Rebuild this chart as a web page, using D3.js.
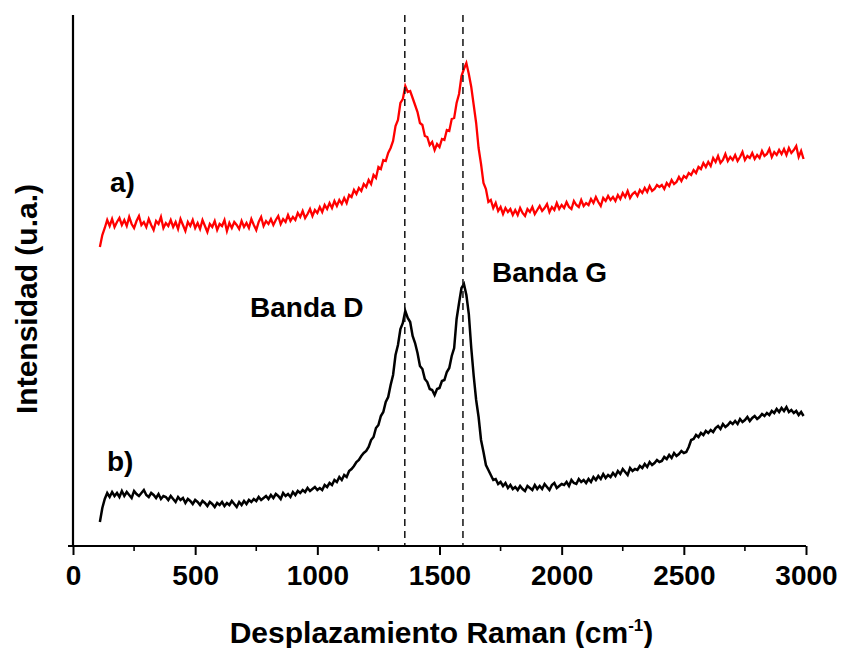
<!DOCTYPE html>
<html>
<head>
<meta charset="utf-8">
<script src="https://cdn.jsdelivr.net/npm/d3@7"></script>
<style>
  html, body { margin: 0; padding: 0; background: #fff; }
  svg text { font-family: "Liberation Sans", Arial, sans-serif; font-weight: bold; fill: #000; }
</style>
</head>
<body>
<svg id="chart" width="842" height="648"></svg>
<script>
// Raman shift sampling (cm-1): 110 .. 2990 every 10
const shiftStart = 110, shiftStep = 10;

// Spectrum a) intensities (arbitrary units)
const spectrumA = [
  299, 311, 318, 326, 320, 327, 319, 324, 328, 321,
  326, 320, 329, 322, 318, 325, 330, 321, 324, 319,
  327, 321, 316, 325, 322, 329, 318, 323, 320, 326,
  319, 324, 317, 327, 321, 315, 324, 320, 326, 318,
  323, 317, 326, 320, 314, 322, 319, 325, 316, 322,
  320, 326, 315, 323, 318, 324, 321, 317, 325, 319,
  323, 318, 327, 321, 316, 324, 329, 320, 325, 322,
  327, 321, 326, 330, 322, 327, 324, 331, 325, 329,
  326, 333, 329, 335, 328, 332, 337, 330, 336, 333,
  339, 334, 341, 337, 343, 338, 345, 340, 346, 342,
  348, 343, 351, 349, 356, 352, 358, 355, 362, 359,
  366, 362, 371, 368, 379, 377, 386, 385, 393, 398,
  405, 420, 426, 443, 447, 460, 454, 455, 448, 441,
  434, 423, 421, 410, 409, 401, 404, 396, 402, 399,
  407, 406, 416, 415, 427, 428, 443, 452, 470, 477,
  483, 472, 459, 441, 423, 398, 382, 363, 357, 344,
  346, 338, 343, 335, 339, 332, 338, 334, 337, 331,
  336, 331, 338, 333, 330, 337, 334, 339, 332, 336,
  340, 335, 338, 342, 334, 339, 336, 343, 337, 341,
  338, 344, 339, 337, 345, 341, 339, 346, 340, 343,
  341, 347, 343, 349, 344, 340, 348, 345, 350, 346,
  349, 345, 351, 347, 353, 349, 355, 348, 352, 354,
  350, 356, 353, 358, 354, 360, 355, 357, 361, 359,
  361, 357, 363, 360, 366, 362, 364, 369, 365, 370,
  368, 373, 371, 376, 373, 379, 377, 383, 379, 384,
  380, 388, 384, 390, 383, 386, 392, 385, 389, 386,
  391, 385, 389, 394, 386, 390, 388, 393, 387, 391,
  388, 395, 390, 392, 397, 389, 394, 391, 396, 392,
  397, 391, 398, 393, 396, 400, 389, 395, 387
];

// Spectrum b) intensities (arbitrary units)
const spectrumB = [
  24, 38, 47, 53, 49, 54, 50, 53, 49, 55,
  50, 54, 51, 48, 55, 52, 50, 53, 56, 51,
  49, 53, 51, 48, 52, 47, 50, 49, 46, 50,
  47, 44, 49, 46, 48, 43, 47, 45, 42, 46,
  44, 41, 45, 43, 40, 44, 42, 39, 43, 41,
  44, 40, 43, 41, 45, 42, 39, 44, 41, 45,
  42, 46, 44, 47, 45, 49, 46, 48, 50, 47,
  51, 48, 52, 50, 47, 53, 50, 52, 49, 54,
  51, 55, 53, 56, 54, 58, 55, 57, 59, 56,
  58, 56, 61, 59, 63, 61, 66, 64, 69, 66,
  71, 69, 75, 77, 80, 84, 86, 90, 93, 95,
  99, 106, 109, 118, 121, 130, 134, 144, 149, 161,
  171, 191, 201, 217, 223, 235, 228, 224, 210, 203,
  193, 180, 177, 167, 164, 157, 156, 151, 157, 158,
  165, 166, 174, 178, 190, 198, 227, 243, 258, 262,
  251, 232, 198, 170, 146, 129, 106, 94, 81, 76,
  71, 66, 67, 62, 64, 60, 63, 58, 61, 57,
  59, 56, 60, 57, 55, 60, 58, 56, 61, 57,
  60, 57, 62, 59, 56, 61, 63, 58, 60, 62,
  61, 64, 60, 66, 63, 62, 67, 64, 66, 63,
  67, 64, 69, 66, 70, 67, 72, 68, 71, 69,
  73, 70, 75, 72, 77, 74, 71, 78, 75, 77,
  76, 80, 78, 82, 79, 84, 81, 83, 86, 84,
  85, 89, 87, 91, 88, 93, 90, 92, 95, 93,
  94, 99, 106, 107, 111, 109, 113, 111, 115, 113,
  116, 114, 118, 120, 117, 122, 119, 121, 124, 122,
  125, 122, 127, 124, 126, 129, 125, 128, 130, 127,
  129, 132, 130, 133, 131, 135, 133, 137, 134, 138,
  135, 139, 134, 136, 133, 135, 131, 134, 130
];

// Band positions (cm-1) marked with dashed guides
const bandD = 1358, bandG = 1596;

// X axis ticks
const majorTicks = [0, 500, 1000, 1500, 2000, 2500, 3000];
const minorTicks = [250, 750, 1250, 1750, 2250, 2750];

const svg = d3.select("#chart");
const plotLeft = 73, plotRight = 806, plotTop = 15, plotBottom = 546;

const x = d3.scaleLinear().domain([0, 3000]).range([plotLeft, plotRight]);
const y = d3.scaleLinear().domain([0, 531]).range([plotBottom, plotTop]);

const toPoints = arr => arr.map((v, i) => [shiftStart + i * shiftStep, v]);

const line = d3.line().x(d => x(d[0])).y(d => y(d[1]));

// spectra
svg.append("path")
  .datum(toPoints(spectrumA))
  .attr("d", line)
  .attr("fill", "none")
  .attr("stroke", "#ff0000")
  .attr("stroke-width", 2.3)
  .attr("stroke-linejoin", "miter");

svg.append("path")
  .datum(toPoints(spectrumB))
  .attr("d", line)
  .attr("fill", "none")
  .attr("stroke", "#000")
  .attr("stroke-width", 2.5)
  .attr("stroke-linejoin", "miter");

// dashed band guides
[bandD, bandG].forEach(b => {
  svg.append("line")
    .attr("x1", x(b)).attr("x2", x(b))
    .attr("y1", plotTop).attr("y2", plotBottom)
    .attr("stroke", "#111")
    .attr("stroke-width", 1.5)
    .attr("stroke-dasharray", "7,5");
});

// x axis
const xAxis = d3.axisBottom(x).tickValues(majorTicks).tickSize(9).tickPadding(10).tickFormat(d3.format("d"));
const gx = svg.append("g").attr("transform", `translate(0,${plotBottom})`).call(xAxis);
gx.select(".domain").attr("stroke", "#000").attr("stroke-width", 2.2).attr("d", `M${plotLeft - 5},0H${plotRight}`);
gx.selectAll(".tick line").attr("stroke", "#000").attr("stroke-width", 2);
gx.selectAll(".tick text").style("font-size", "28px").style("font-family", "'Liberation Sans', Arial, sans-serif").style("font-weight", "bold");

svg.append("g").selectAll("line").data(minorTicks).join("line")
  .attr("x1", d => x(d)).attr("x2", d => x(d))
  .attr("y1", plotBottom).attr("y2", plotBottom + 5)
  .attr("stroke", "#000").attr("stroke-width", 1.6);

// y axis line
svg.append("line")
  .attr("x1", plotLeft).attr("x2", plotLeft)
  .attr("y1", plotTop).attr("y2", plotBottom + 1)
  .attr("stroke", "#000").attr("stroke-width", 2.2);

// axis titles
const xt = svg.append("text")
  .attr("x", (plotLeft + plotRight) / 2 + 2).attr("y", 643)
  .attr("text-anchor", "middle")
  .style("font-size", "30px");
xt.append("tspan").text("Desplazamiento Raman (cm");
xt.append("tspan").text("-1").style("font-size", "17px").attr("dy", -12);
xt.append("tspan").text(")").attr("dy", 12);

svg.append("text")
  .attr("transform", "translate(37,299) rotate(-90)")
  .attr("text-anchor", "middle")
  .style("font-size", "30px")
  .text("Intensidad (u.a.)");

// annotations
svg.append("text").attr("x", 110).attr("y", 192).style("font-size", "28px").text("a)");
svg.append("text").attr("x", 107).attr("y", 471).style("font-size", "28px").text("b)");
svg.append("text").attr("x", 250).attr("y", 317).style("font-size", "28px").text("Banda D");
svg.append("text").attr("x", 492).attr("y", 282).style("font-size", "28px").text("Banda G");
</script>
</body>
</html>
